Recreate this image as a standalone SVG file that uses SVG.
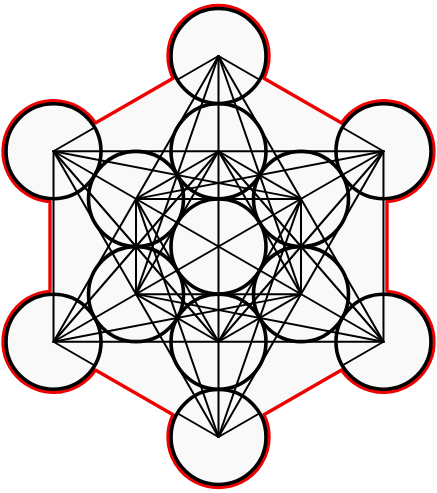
<svg xmlns="http://www.w3.org/2000/svg" width="437" height="493" viewBox="0 0 437 493">
<style>
.l{stroke:#000;stroke-width:2;fill:none;stroke-linecap:round}
.c{stroke:#000;stroke-width:3.6;fill:none}
.o{stroke:#f00000;stroke-width:3.4;fill:#f9f9f9;stroke-linejoin:round}
</style>
<rect width="437" height="493" fill="#fff"/>
<path id="outline" class="o" d="M263.88 78.16 L341.60 123.03 A50.5 50.5 0 1 1 386.98 201.63 L386.98 291.37 A50.5 50.5 0 1 1 341.60 369.97 L263.88 414.84 A50.5 50.5 0 1 1 173.12 414.84 L95.40 369.97 A50.5 50.5 0 1 1 50.02 291.37 L50.02 201.63 A50.5 50.5 0 1 1 95.40 123.03 L173.12 78.16 A50.5 50.5 0 1 1 263.88 78.16 Z"/>
<g id="connectors" class="l">
<line x1="218.5" y1="56" x2="218.5" y2="437"/>
<line x1="383.48" y1="151.25" x2="53.52" y2="341.75"/>
<line x1="383.48" y1="341.75" x2="53.52" y2="151.25"/>
<line x1="218.5" y1="56" x2="383.48" y2="341.75"/>
<line x1="383.48" y1="341.75" x2="53.52" y2="341.75"/>
<line x1="53.52" y1="341.75" x2="218.5" y2="56"/>
<line x1="383.48" y1="151.25" x2="218.5" y2="437"/>
<line x1="218.5" y1="437" x2="53.52" y2="151.25"/>
<line x1="53.52" y1="151.25" x2="383.48" y2="151.25"/>
<line x1="218.5" y1="151.25" x2="300.99" y2="198.875"/>
<line x1="300.99" y1="198.875" x2="300.99" y2="294.125"/>
<line x1="300.99" y1="294.125" x2="218.5" y2="341.75"/>
<line x1="218.5" y1="341.75" x2="136.01" y2="294.125"/>
<line x1="136.01" y1="294.125" x2="136.01" y2="198.875"/>
<line x1="136.01" y1="198.875" x2="218.5" y2="151.25"/>
<line x1="218.5" y1="151.25" x2="300.99" y2="294.125"/>
<line x1="300.99" y1="294.125" x2="136.01" y2="294.125"/>
<line x1="136.01" y1="294.125" x2="218.5" y2="151.25"/>
<line x1="300.99" y1="198.875" x2="218.5" y2="341.75"/>
<line x1="218.5" y1="341.75" x2="136.01" y2="198.875"/>
<line x1="136.01" y1="198.875" x2="300.99" y2="198.875"/>
<line x1="218.5" y1="56" x2="300.99" y2="294.125"/>
<line x1="218.5" y1="56" x2="136.01" y2="294.125"/>
<line x1="383.48" y1="151.25" x2="218.5" y2="341.75"/>
<line x1="383.48" y1="151.25" x2="136.01" y2="198.875"/>
<line x1="383.48" y1="341.75" x2="136.01" y2="294.125"/>
<line x1="383.48" y1="341.75" x2="218.5" y2="151.25"/>
<line x1="218.5" y1="437" x2="136.01" y2="198.875"/>
<line x1="218.5" y1="437" x2="300.99" y2="198.875"/>
<line x1="53.52" y1="341.75" x2="218.5" y2="151.25"/>
<line x1="53.52" y1="341.75" x2="300.99" y2="294.125"/>
<line x1="53.52" y1="151.25" x2="300.99" y2="198.875"/>
<line x1="53.52" y1="151.25" x2="218.5" y2="341.75"/>
<line x1="383.48" y1="151.25" x2="383.48" y2="341.75"/>
<line x1="53.52" y1="341.75" x2="53.52" y2="151.25"/>
<line x1="218.5" y1="56" x2="259.64" y2="79.75"/>
<line x1="383.48" y1="151.25" x2="342.34" y2="127.5"/>
<line x1="383.48" y1="341.75" x2="342.34" y2="365.5"/>
<line x1="218.5" y1="437" x2="259.64" y2="413.25"/>
<line x1="218.5" y1="437" x2="177.36" y2="413.25"/>
<line x1="53.52" y1="341.75" x2="94.66" y2="365.5"/>
<line x1="53.52" y1="151.25" x2="94.66" y2="127.5"/>
<line x1="218.5" y1="56" x2="177.36" y2="79.75"/>
</g>
<g id="circle-center" class="c"><circle cx="218.5" cy="246.5" r="47.5"/></g>
<g id="circle-i0" class="c"><circle cx="218.5" cy="151.25" r="47.5"/></g>
<g id="circle-i1" class="c"><circle cx="300.99" cy="198.875" r="47.5"/></g>
<g id="circle-i2" class="c"><circle cx="300.99" cy="294.125" r="47.5"/></g>
<g id="circle-i3" class="c"><circle cx="218.5" cy="341.75" r="47.5"/></g>
<g id="circle-i4" class="c"><circle cx="136.01" cy="294.125" r="47.5"/></g>
<g id="circle-i5" class="c"><circle cx="136.01" cy="198.875" r="47.5"/></g>
<g id="circle-v0" class="c"><circle cx="218.5" cy="56" r="47.5"/></g>
<g id="circle-v1" class="c"><circle cx="383.48" cy="151.25" r="47.5"/></g>
<g id="circle-v2" class="c"><circle cx="383.48" cy="341.75" r="47.5"/></g>
<g id="circle-v3" class="c"><circle cx="218.5" cy="437" r="47.5"/></g>
<g id="circle-v4" class="c"><circle cx="53.52" cy="341.75" r="47.5"/></g>
<g id="circle-v5" class="c"><circle cx="53.52" cy="151.25" r="47.5"/></g>
</svg>
